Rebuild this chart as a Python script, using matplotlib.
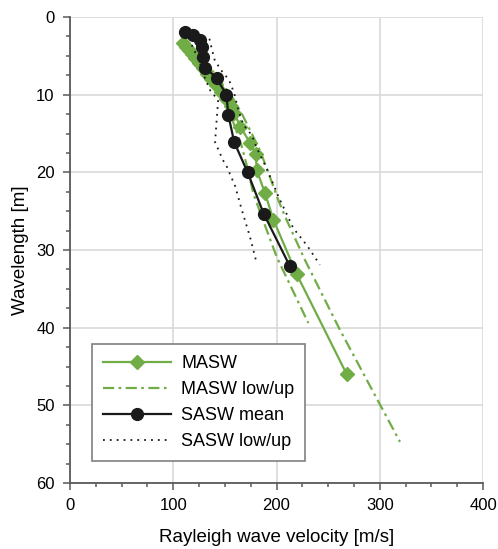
import numpy as np
import matplotlib
matplotlib.use("Agg")
import matplotlib.pyplot as plt

plt.rcParams['font.family'] = ['Liberation Sans', 'DejaVu Sans']

# values (velocity in m/s, wavelength in m)
masw_v = [109, 112, 115, 118, 121, 125, 129, 133, 137, 141, 146, 151, 156, 159,
          165, 174.3, 180, 180.8, 188.9, 197, 219.5, 268]
masw_wl = [3.4, 3.8, 4.3, 4.8, 5.3, 5.9, 6.6, 7.3, 8.0, 8.8, 9.7, 10.6, 11.5, 12.4,
           14.1, 16.2, 17.7, 19.7, 22.7, 26.1, 33.1, 46.0]

masw_low_v = [106, 116, 128, 140, 150, 158, 166, 172, 177.5, 186.5, 200.2, 230.8]
masw_low_wl = [3.2, 5.0, 7.0, 9.2, 11.0, 13.5, 16.5, 19.5, 22.7, 26.0, 30.9, 39.4]

masw_up_v = [113, 124, 135, 147, 158, 167, 176, 184, 192, 201.8, 209, 227.6, 261.5, 319.6]
masw_up_wl = [3.2, 4.6, 6.4, 8.5, 10.5, 12.6, 15.0, 17.2, 20.0, 23.6, 25.9, 31.3, 40.3, 54.7]

sasw_v = [111.4, 119.5, 126, 127.6, 129.2, 131, 142, 151.5, 153.3, 159, 172, 187.5, 213]
sasw_wl = [1.9, 2.3, 3.0, 3.8, 5.1, 6.5, 7.9, 10.0, 12.6, 16.1, 20.0, 25.3, 32.1]

sasw_low_v = [118, 122.7, 127.5, 131, 136, 143.5, 142, 140.5, 148, 152, 160, 166.3, 174.3, 180.8]
sasw_low_wl = [3.6, 5.0, 6.5, 8.0, 9.5, 10.7, 13.3, 16.1, 18.4, 19.3, 21.8, 24.8, 28.3, 31.7]

sasw_up_v = [135, 137.5, 140, 146, 154, 159, 163, 168, 176, 181, 190.5, 201.8, 216.3, 230, 242]
sasw_up_wl = [2.8, 4.2, 5.5, 6.8, 8.1, 9.8, 12.0, 13.9, 15.2, 16.9, 19.5, 23.1, 27.2, 29.5, 31.9]

green = '#70AD47'
axis_col = '#595959'

fig = plt.figure(figsize=(4.98, 5.49), dpi=100)
ax = fig.add_axes([0.1406, 0.1202, 0.8293, 0.8488])

ax.plot(masw_v, masw_wl, color=green, lw=1.6, marker='D', ms=7,
        label='MASW', zorder=3)
ax.plot(masw_low_v, masw_low_wl, color=green, lw=1.6, dashes=(5, 2, 1.2, 2),
        label='MASW low/up', zorder=3)
ax.plot(masw_up_v, masw_up_wl, color=green, lw=1.6, dashes=(5, 2, 1.2, 2), zorder=3)
ax.plot(sasw_v, sasw_wl, color='#1a1a1a', lw=1.6, marker='o', ms=8.5,
        label='SASW mean', zorder=4)
ax.plot(sasw_low_v, sasw_low_wl, color='#1a1a1a', lw=1.3, dashes=(1, 2.8),
        label='SASW low/up', zorder=4)
ax.plot(sasw_up_v, sasw_up_wl, color='#1a1a1a', lw=1.3, dashes=(1, 2.8), zorder=4)

ax.set_xlim(0, 400)
ax.set_ylim(60, 0)
ax.set_xticks([0, 100, 200, 300, 400])
ax.set_yticks(np.arange(0, 61, 10))
ax.set_xticks(np.arange(0, 401, 25), minor=True)
ax.set_yticks(np.arange(0, 61, 2.5), minor=True)

ax.grid(True, which='major', color='#d9d9d9', lw=1.2, zorder=0)
ax.set_axisbelow(True)

for side in ['top', 'right']:
    ax.spines[side].set_visible(False)
for side in ['left', 'bottom']:
    ax.spines[side].set_color(axis_col)
    ax.spines[side].set_linewidth(1.3)

ax.tick_params(which='major', length=5, width=1.1, color=axis_col,
               labelsize=12, pad=6)
ax.tick_params(which='minor', length=3, width=1.1, color=axis_col)

ax.set_xlabel('Rayleigh wave velocity [m/s]', fontsize=13.5, labelpad=11)
ax.set_ylabel('Wavelength [m]', fontsize=13.5, labelpad=5)

leg = ax.legend(loc='lower left', bbox_to_anchor=(0.053, 0.047), borderaxespad=0,
                fontsize=13, handlelength=3.8, handletextpad=0.55,
                labelspacing=0.5, fancybox=False, framealpha=1,
                borderpad=0.6)
leg.get_frame().set_edgecolor('#808080')
leg.get_frame().set_linewidth(1.2)

fig.savefig('out.png', dpi=100)
